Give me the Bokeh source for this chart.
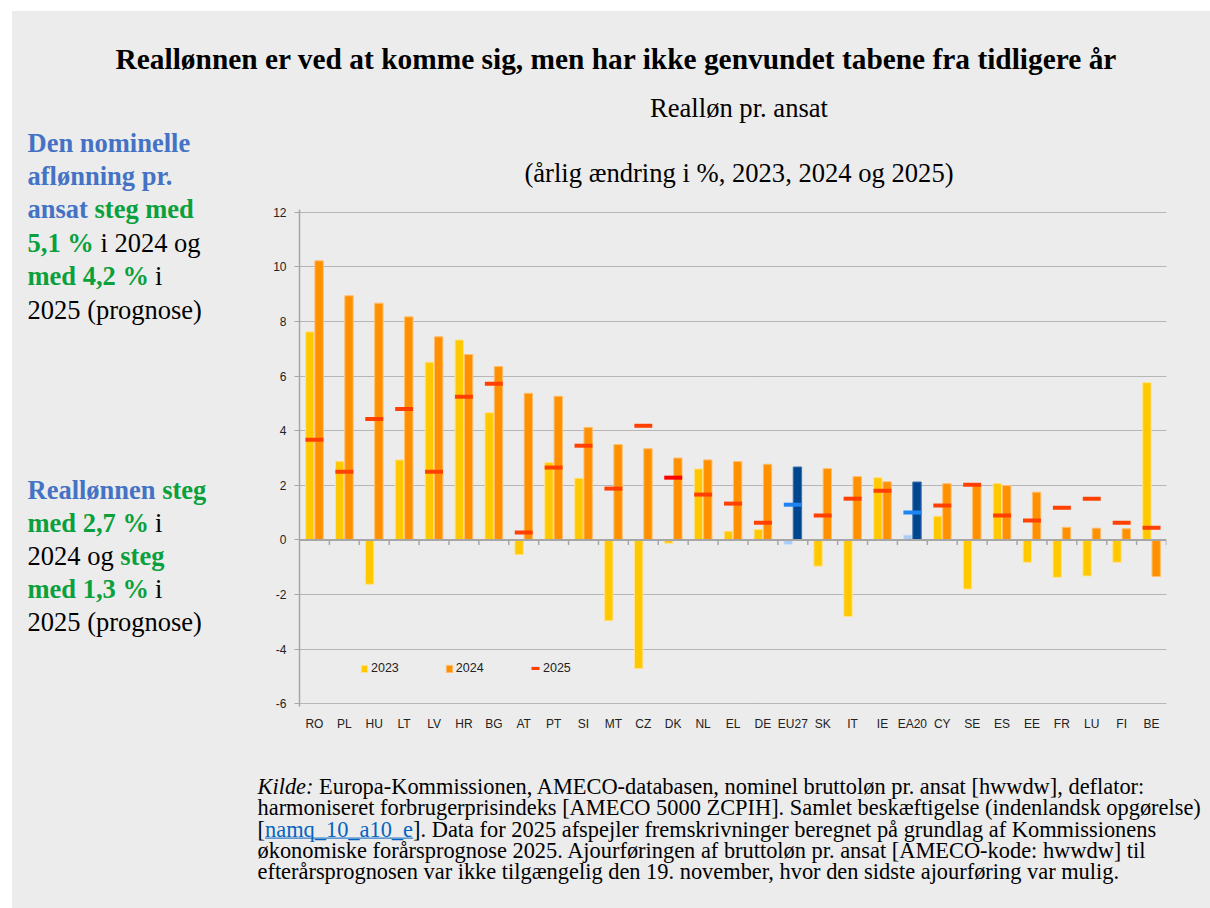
from bokeh.plotting import figure
from bokeh.models import (ColumnDataSource, FactorRange, FixedTicker, Span, Label,
                          Legend, LegendItem, Range1d)
from bokeh.layouts import column, row
from bokeh.transform import dodge
from bokeh.embed import file_html
from bokeh.resources import INLINE

# ---------------- data ----------------
categories = ["RO", "PL", "HU", "LT", "LV", "HR", "BG", "AT", "PT", "SI", "MT", "CZ",
              "DK", "NL", "EL", "DE", "EU27", "SK", "IT", "IE", "EA20", "CY", "SE",
              "ES", "EE", "FR", "LU", "FI", "BE"]
real_2023 = [7.62, 2.88, -1.62, 2.93, 6.51, 7.32, 4.66, -0.54, 2.83, 2.26, -2.96, -4.71,
             -0.12, 2.60, 0.32, 0.38, -0.17, -0.96, -2.80, 2.28, 0.18, 0.87, -1.80,
             2.07, -0.82, -1.37, -1.32, -0.82, 5.76]
real_2024 = [10.22, 8.94, 8.67, 8.17, 7.44, 6.79, 6.35, 5.37, 5.26, 4.12, 3.49, 3.34,
             3.00, 2.93, 2.87, 2.77, 2.67, 2.61, 2.32, 2.13, 2.12, 2.06, 2.01,
             1.99, 1.75, 0.46, 0.43, 0.41, -1.34]
real_2025 = [3.67, 2.50, 4.43, 4.79, 2.50, 5.24, 5.72, 0.27, 2.65, 3.45, 1.88, 4.18,
             2.28, 1.66, 1.33, 0.63, 1.29, 0.89, 1.51, 1.80, 1.00, 1.26, 2.02,
             0.89, 0.71, 1.18, 1.51, 0.63, 0.45]
aggregates = ["EU27", "EA20"]
y_ticks = [-6, -4, -2, 0, 2, 4, 6, 8, 10, 12]
series_labels = ["2023", "2024", "2025"]

title_text = "Reallønnen er ved at komme sig, men har ikke genvundet tabene fra tidligere år"
subtitle_1 = "Realløn pr. ansat"
subtitle_2 = "(årlig ændring i %, 2023, 2024 og 2025)"

# ---------------- styling ----------------
BG = "#ECECEC"
C23, C24, C25 = "#FFC800", "#FF9000", "#FF4000"
C23_AGG, C24_AGG, C25_AGG = "#A9CBF5", "#00468E", "#1E84F2"
BLUE_T, GREEN_T, BLACK, LINK = "#4472C4", "#0AA03C", "#000000", "#0563C1"
AXIS_C = "#A6A6A6"
SERIF = "Liberation Serif"
SANS = "Liberation Sans"

PAGE_X, PAGE_Y = 12, 11          # where the grey panel starts on the page
TOTAL_W = 1198
TOP_H, SUB_H, CHART_H, BOT_H = 79, 110, 540, 168
MID_H = SUB_H + CHART_H
LEFT_W = 250
CHART_W = TOTAL_W - LEFT_W
BL, BR, BT = 37, 44, 9
FH = 497
BB = CHART_H - BT - FH
Y0, Y1 = -6.1, 12.1

# ---------------- chart ----------------
col23 = [C23_AGG if c in aggregates else C23 for c in categories]
col24 = [C24_AGG if c in aggregates else C24 for c in categories]
col25 = [C25_AGG if c in aggregates else ("#FF0000" if c == "DK" else C25) for c in categories]
edge23 = ["#CFE0F8" if c in aggregates else "#FFE28A" for c in categories]
edge24 = ["#3A6FB0" if c in aggregates else "#FFBE6E" for c in categories]

src = ColumnDataSource(dict(cat=categories, v23=real_2023, v24=real_2024, v25=real_2025,
                            c23=col23, c24=col24, c25=col25, e23=edge23, e24=edge24))

p = figure(x_range=FactorRange(*categories, factor_padding=0, range_padding=0),
           y_range=(Y0, Y1), width=CHART_W, height=CHART_H, output_backend="svg",
           toolbar_location=None, title=None, min_border_left=BL, min_border_right=BR,
           min_border_top=BT, min_border_bottom=BB, background_fill_color=BG,
           border_fill_color=BG, outline_line_color=None)

p.xgrid.grid_line_color = None
p.ygrid.ticker = FixedTicker(ticks=[t for t in y_ticks if t != 0])
p.ygrid.grid_line_color = "#808080"
p.ygrid.grid_line_dash = "1 1"
p.ygrid.grid_line_width = 1

p.add_layout(Span(location=0, dimension="width", line_color=AXIS_C, line_width=2))

r23 = p.vbar(x=dodge("cat", -0.155, range=p.x_range), top="v23", bottom=0, width=0.28,
             fill_color="c23", line_color="e23", line_width=1, source=src)
r24 = p.vbar(x=dodge("cat", 0.155, range=p.x_range), top="v24", bottom=0, width=0.28,
             fill_color="c24", line_color="e24", line_width=1, source=src)
r25 = p.rect(x="cat", y="v25", width=0.6, height=4, height_units="screen",
             fill_color="c25", line_color=None, source=src)

tick_len = 5 / FH * (Y1 - Y0)
p.segment(x0=dodge("cat", 0.5, range=p.x_range), y0=0,
          x1=dodge("cat", 0.5, range=p.x_range), y1=-tick_len,
          line_color=AXIS_C, line_width=1.5, source=src)

p.yaxis.ticker = FixedTicker(ticks=y_ticks)
p.yaxis.major_label_overrides = {t: str(t) for t in y_ticks}
p.yaxis.axis_line_color = AXIS_C
p.yaxis.axis_line_width = 1.5
p.yaxis.major_tick_line_color = AXIS_C
p.yaxis.major_tick_out = 5
p.yaxis.major_tick_in = 0
p.yaxis.minor_tick_line_color = None
p.yaxis.major_label_standoff = 8
p.yaxis.major_label_text_font = SANS
p.yaxis.major_label_text_font_size = "12px"
p.yaxis.major_label_text_color = "#222222"

p.xaxis.axis_line_color = None
p.xaxis.major_tick_line_color = None
p.xaxis.major_tick_out = 0
p.xaxis.major_tick_in = 0
p.xaxis.major_label_standoff = 10
p.xaxis.major_label_text_font = SANS
p.xaxis.major_label_text_font_size = "12px"
p.xaxis.major_label_text_color = "#222222"

leg_style = dict(orientation="horizontal", label_standoff=3, padding=0, margin=0,
                 border_line_color=None, background_fill_alpha=0,
                 label_text_font=SANS, label_text_font_size="12.5px",
                 label_text_color="#222222")
legend_a = Legend(items=[LegendItem(label=series_labels[0], renderers=[r23], index=0),
                         LegendItem(label=series_labels[1], renderers=[r24], index=0)],
                  location=(61, 31), glyph_width=8, glyph_height=9, spacing=46,
                  **leg_style)
legend_b = Legend(items=[LegendItem(label=series_labels[2], renderers=[r25], index=0)],
                  location=(231, 31), glyph_width=10, glyph_height=4, **leg_style)
p.add_layout(legend_a)
p.add_layout(legend_b)


# ---------------- text panels ----------------
def text_panel(w, h, page_x0, page_y0):
    f = figure(width=w, height=h, x_range=Range1d(0, w), y_range=Range1d(0, h),
               output_backend="svg", toolbar_location=None, title=None,
               x_axis_location=None, y_axis_location=None, min_border=0,
               background_fill_color=BG, border_fill_color=BG, outline_line_color=None)
    f.grid.visible = False

    def add(s, px, py, size, color=BLACK, style="normal", align="left"):
        f.add_layout(Label(x=px - page_x0, y=h - (py - page_y0), x_units="screen",
                           y_units="screen", text=s, text_font=SERIF,
                           text_font_size=size, text_font_style=style,
                           text_color=color, text_align=align,
                           text_baseline="middle"))
    return f, add


top, add_top = text_panel(TOTAL_W, TOP_H, PAGE_X, PAGE_Y)
add_top(title_text, 616, 58, "29.4px", style="bold", align="center")

# the subtitle panel's frame is aligned with the chart frame by the column layout
sub, add_sub = text_panel(CHART_W, SUB_H, PAGE_X + LEFT_W + BL, PAGE_Y + TOP_H)
add_sub(subtitle_1, 738.5, 107, "26.6px", align="center")
add_sub(subtitle_2, 738.5, 172, "26.6px", align="center")

left, add_left = text_panel(LEFT_W, MID_H, PAGE_X, PAGE_Y + TOP_H)
LS = "26.5px"
left_lines = [
    [("Den nominelle", BLUE_T, "bold", 27)],
    [("aflønning pr.", BLUE_T, "bold", 27)],
    [("ansat", BLUE_T, "bold", 27), ("steg med", GREEN_T, "bold", 94)],
    [("5,1 %", GREEN_T, "bold", 27), ("i 2024 og", BLACK, "normal", 100)],
    [("med 4,2 %", GREEN_T, "bold", 27), ("i", BLACK, "normal", 154.5)],
    [("2025 (prognose)", BLACK, "normal", 27)],
]
for i, line in enumerate(left_lines):
    for s, c, st, x in line:
        add_left(s, x, 142 + i * 33.4, LS, color=c, style=st)

left_lines_2 = [
    [("Reallønnen", BLUE_T, "bold", 27), ("steg", GREEN_T, "bold", 161.7)],
    [("med 2,7 %", GREEN_T, "bold", 27), ("i", BLACK, "normal", 154.5)],
    [("2024 og", BLACK, "normal", 27), ("steg", GREEN_T, "bold", 119.8)],
    [("med 1,3 %", GREEN_T, "bold", 27), ("i", BLACK, "normal", 154.5)],
    [("2025 (prognose)", BLACK, "normal", 27)],
]
for i, line in enumerate(left_lines_2):
    for s, c, st, x in line:
        add_left(s, x, 489 + i * 33.1, LS, color=c, style=st)

BOT_Y0 = PAGE_Y + TOP_H + MID_H
bottom, add_bot = text_panel(TOTAL_W, BOT_H, PAGE_X, BOT_Y0)
SS = "22.4px"
SRC_Y, SRC_DY = 786, 21.3
src_lines = [
    [("Kilde:", BLACK, "italic", 257),
     ("Europa-Kommissionen, AMECO-databasen, nominel bruttoløn pr. ansat [hwwdw], deflator:",
      BLACK, "normal", 318.6)],
    [("harmoniseret forbrugerprisindeks [AMECO 5000 ZCPIH]. Samlet beskæftigelse (indenlandsk opgørelse)",
      BLACK, "normal", 257)],
    [("[", BLACK, "normal", 257), ("namq_10_a10_e", LINK, "normal", 264.5),
     ("]. Data for 2025 afspejler fremskrivninger beregnet på grundlag af Kommissionens",
      BLACK, "normal", 412.6)],
    [("økonomiske forårsprognose 2025. Ajourføringen af bruttoløn pr. ansat [AMECO-kode: hwwdw] til",
      BLACK, "normal", 257)],
    [("efterårsprognosen var ikke tilgængelig den 19. november, hvor den sidste ajourføring var mulig.",
      BLACK, "normal", 257)],
]
for i, line in enumerate(src_lines):
    for s, c, st, x in line:
        add_bot(s, x, SRC_Y + i * SRC_DY, SS, color=c, style=st)

# underline of the hyperlink text (panel pixels)
ul_y = BOT_H - (SRC_Y + 2 * SRC_DY + 9 - BOT_Y0)
bottom.segment(x0=[264.5 - PAGE_X], y0=[ul_y], x1=[412.6 - PAGE_X], y1=[ul_y],
               line_color=LINK, line_width=1)

layout = column(top, row(left, column(sub, p, spacing=0), spacing=0), bottom, spacing=0,
                margin=(PAGE_Y, 0, 0, PAGE_X), styles={"background-color": BG})

open("out.html", "w").write(file_html(layout, INLINE))
